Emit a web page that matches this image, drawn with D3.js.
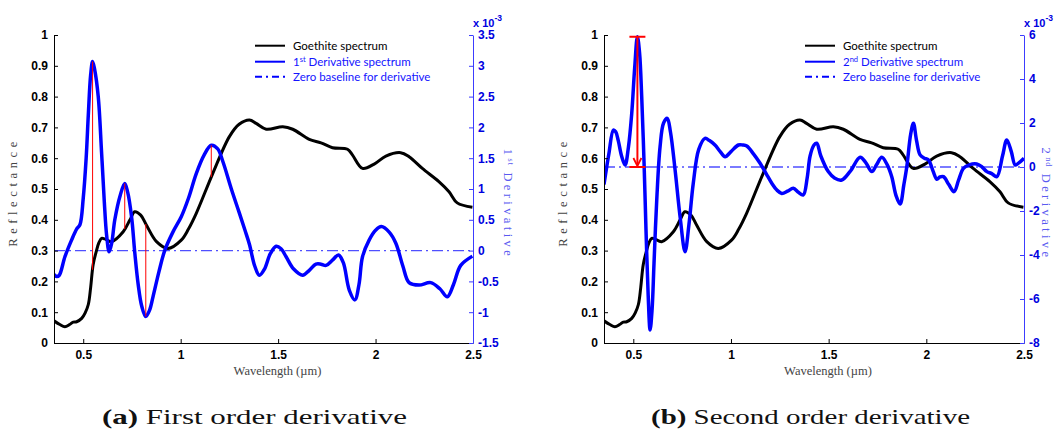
<!DOCTYPE html>
<html>
<head>
<meta charset="utf-8">
<script src="https://cdn.jsdelivr.net/npm/d3@7"></script>
<style>
  body { margin: 0; background: #fff; }
  svg { display: block; }
</style>
</head>
<body>
<svg id="chart" width="1055" height="430"></svg>
<script>
// ---- Goethite reflectance spectrum (shared by both panels) ----
const goethiteWl = [0.35, 0.38, 0.406, 0.43, 0.449, 0.466, 0.492, 0.51, 0.526, 0.538, 0.551, 0.568, 0.58, 0.594, 0.61, 0.645, 0.705, 0.74, 0.764, 0.795, 0.824, 0.876, 0.935, 1.003, 1.04, 1.08, 1.165, 1.25, 1.30, 1.353, 1.387, 1.439, 1.524, 1.575, 1.66, 1.72, 1.779, 1.856, 1.882, 1.933, 1.993, 2.053, 2.129, 2.172, 2.24, 2.325, 2.377, 2.419, 2.497];
const goethiteRefl = [0.072, 0.060, 0.053, 0.060, 0.068, 0.069, 0.080, 0.098, 0.125, 0.18, 0.255, 0.30, 0.325, 0.340, 0.338, 0.329, 0.361, 0.40, 0.426, 0.415, 0.383, 0.329, 0.307, 0.334, 0.37, 0.421, 0.551, 0.670, 0.71, 0.724, 0.713, 0.694, 0.702, 0.694, 0.661, 0.650, 0.634, 0.629, 0.610, 0.567, 0.581, 0.607, 0.618, 0.605, 0.567, 0.524, 0.491, 0.455, 0.441];

// ---- First derivative spectrum (x 10^-3) ----
const firstDerivWl = [0.35, 0.364, 0.377, 0.406, 0.44, 0.466, 0.483, 0.50, 0.515, 0.526, 0.538, 0.548, 0.558, 0.577, 0.594, 0.608, 0.62, 0.633, 0.646, 0.662, 0.69, 0.713, 0.728, 0.748, 0.765, 0.782, 0.80, 0.821, 0.84, 0.858, 0.888, 0.918, 0.96, 1.003, 1.04, 1.08, 1.12, 1.157, 1.19, 1.216, 1.26, 1.30, 1.33, 1.353, 1.38, 1.404, 1.43, 1.46, 1.49, 1.515, 1.541, 1.58, 1.626, 1.66, 1.694, 1.72, 1.746, 1.78, 1.81, 1.835, 1.865, 1.894, 1.915, 1.933, 1.967, 2.0, 2.03, 2.07, 2.104, 2.14, 2.172, 2.223, 2.283, 2.33, 2.368, 2.40, 2.437, 2.497];
const firstDeriv = [-0.39, -0.42, -0.40, -0.10, 0.17, 0.35, 0.42, 0.85, 1.5, 2.2, 2.85, 3.07, 2.95, 2.5, 1.6, 0.8, 0.25, -0.02, 0.12, 0.5, 0.9, 1.09, 0.95, 0.55, -0.05, -0.55, -0.9, -1.07, -0.97, -0.75, -0.35, 0.0, 0.3, 0.55, 0.85, 1.25, 1.55, 1.71, 1.65, 1.45, 1.0, 0.62, 0.33, 0.1, -0.25, -0.40, -0.3, -0.05, 0.07, 0.03, -0.10, -0.3, -0.40, -0.32, -0.22, -0.22, -0.24, -0.15, -0.07, -0.2, -0.64, -0.80, -0.55, -0.10, 0.17, 0.33, 0.39, 0.30, 0.12, -0.25, -0.52, -0.56, -0.52, -0.62, -0.75, -0.55, -0.24, -0.09];

// ---- Second derivative spectrum (x 10^-3) ----
const secondDerivWl = [0.35, 0.375, 0.398, 0.41, 0.423, 0.44, 0.458, 0.475, 0.492, 0.507, 0.521, 0.532, 0.543, 0.555, 0.565, 0.576, 0.586, 0.596, 0.606, 0.62, 0.637, 0.655, 0.674, 0.69, 0.714, 0.74, 0.765, 0.785, 0.807, 0.835, 0.867, 0.89, 0.918, 0.945, 0.97, 1.0, 1.038, 1.06, 1.081, 1.115, 1.149, 1.18, 1.209, 1.235, 1.26, 1.29, 1.319, 1.345, 1.37, 1.39, 1.405, 1.425, 1.439, 1.46, 1.498, 1.53, 1.567, 1.61, 1.661, 1.69, 1.721, 1.745, 1.772, 1.80, 1.823, 1.845, 1.866, 1.885, 1.9, 1.92, 1.934, 1.95, 1.968, 1.99, 2.011, 2.035, 2.054, 2.07, 2.088, 2.115, 2.142, 2.165, 2.19, 2.22, 2.258, 2.285, 2.31, 2.335, 2.361, 2.39, 2.412, 2.435, 2.455, 2.475, 2.5];
const secondDeriv = [-0.8, 0.6, 1.68, 1.6, 1.2, 0.5, 0.09, 0.9, 2.44, 4.5, 5.92, 5.2, 3.2, 0.2, -2.86, -5.8, -7.41, -6.5, -4.38, -1.5, 0.92, 2.0, 2.21, 1.6, -0.14, -2.3, -3.85, -2.6, -0.74, 0.8, 1.30, 1.2, 1.0, 0.7, 0.47, 0.7, 1.0, 1.0, 0.95, 0.6, 0.17, -0.3, -0.74, -1.05, -1.20, -1.1, -0.97, -1.15, -1.27, -0.5, 0.5, 1.0, 1.08, 0.5, -0.21, -0.5, -0.59, -0.2, 0.44, 0.2, -0.21, 0.1, 0.44, 0.1, -0.44, -1.3, -1.68, -0.8, 0.01, 1.5, 1.99, 1.2, 0.55, 0.4, 0.32, -0.2, -0.56, -0.45, -0.44, -0.8, -1.12, -0.6, -0.06, 0.1, 0.14, 0.0, -0.21, -0.3, -0.44, 0.5, 1.23, 0.7, 0.09, 0.2, 0.40];

// ---- Tick labels ----
const wavelengthTicks = [0.5, 1, 1.5, 2, 2.5];
const reflectanceTicks = [0, 0.1, 0.2, 0.3, 0.4, 0.5, 0.6, 0.7, 0.8, 0.9, 1];
const firstDerivTicks = [-1.5, -1, -0.5, 0, 0.5, 1, 1.5, 2, 2.5, 3, 3.5];
const secondDerivTicks = [-8, -6, -4, -2, 0, 2, 4, 6];

// Wavelengths where the first derivative extrema are linked to the spectrum
const firstDerivMarkers = [0.548, 0.713, 0.821, 1.157];
// Second-derivative peak height that is highlighted with an arrow
const secondDerivArrowWl = 0.521;

const BLUE = "#0000ff";
const AXIS_BLUE = "#3c3cff";
const svg = d3.select("#chart");

function interp(xs, ys, x) {
  const i = Math.max(1, d3.bisectLeft(xs, x));
  const x0 = xs[i - 1], x1 = xs[i];
  const t = (x - x0) / (x1 - x0);
  return ys[i - 1] + t * (ys[i] - ys[i - 1]);
}

const panels = [
  {
    id: "a", left: 54, right: 473, rightTitleX: 504,
    derivWl: firstDerivWl, deriv: firstDeriv,
    derivDomain: [-1.5, 3.5], derivTicks: firstDerivTicks,
    ordinal: ["1", "st"], legendX: 255,
    captionTag: "(a)", captionText: " First order derivative", captionX: 102, captionW: 305
  },
  {
    id: "b", left: 604, right: 1024, rightTitleX: 1042,
    derivWl: secondDerivWl, deriv: secondDeriv,
    derivDomain: [-8, 6], derivTicks: secondDerivTicks,
    ordinal: ["2", "nd"], legendX: 805,
    captionTag: "(b)", captionText: " Second order derivative", captionX: 651, captionW: 319
  }
];

const plotTop = 35, plotBottom = 343;

panels.forEach(p => {
  const g = svg.append("g");
  const x = d3.scaleLinear().domain([0.35, 2.5]).range([p.left, p.right]);
  const y = d3.scaleLinear().domain([0, 1]).range([plotBottom, plotTop]);
  const y2 = d3.scaleLinear().domain(p.derivDomain).range([plotBottom, plotTop]);

  const clipId = "clip-" + p.id;
  g.append("clipPath").attr("id", clipId)
    .append("rect").attr("x", p.left).attr("y", plotTop - 4)
    .attr("width", p.right - p.left).attr("height", plotBottom - plotTop + 4);

  const plot = g.append("g").attr("clip-path", `url(#${clipId})`);

  // zero baseline for the derivative
  plot.append("line")
    .attr("x1", p.left).attr("x2", p.right)
    .attr("y1", y2(0)).attr("y2", y2(0))
    .attr("stroke", "#4f4fff").attr("stroke-width", 1.4)
    .attr("stroke-dasharray", "11,4,2,4");

  const curve = d3.curveCatmullRom.alpha(0.5);

  // goethite spectrum
  const reflLine = d3.line().x(d => x(d[0])).y(d => y(d[1])).curve(curve);
  plot.append("path")
    .datum(d3.zip(goethiteWl, goethiteRefl))
    .attr("d", reflLine)
    .attr("fill", "none").attr("stroke", "#000").attr("stroke-width", 3)
    .attr("stroke-linejoin", "round");

  // derivative spectrum
  const derivLine = d3.line().x(d => x(d[0])).y(d => y2(d[1])).curve(curve);
  plot.append("path")
    .datum(d3.zip(p.derivWl, p.deriv))
    .attr("d", derivLine)
    .attr("fill", "none").attr("stroke", BLUE).attr("stroke-width", 3.5)
    .attr("stroke-linejoin", "round");

  if (p.id === "a") {
    // red connectors between derivative extrema and the spectrum
    g.selectAll(".connector").data(firstDerivMarkers).join("line")
      .attr("x1", d => x(d)).attr("x2", d => x(d))
      .attr("y1", d => y2(interp(p.derivWl, p.deriv, d)))
      .attr("y2", d => y(interp(goethiteWl, goethiteRefl, d)))
      .attr("stroke", "#ff0000").attr("stroke-width", 1);
  } else {
    // red arrow marking the height of the main second-derivative peak
    const ax = x(secondDerivArrowWl);
    const yTop = y2(interp(p.derivWl, p.deriv, secondDerivArrowWl));
    const yBot = y2(0);
    const red = "#ff0000";
    g.append("line").attr("x1", ax - 8).attr("x2", ax + 8)
      .attr("y1", yTop).attr("y2", yTop).attr("stroke", red).attr("stroke-width", 2);
    g.append("line").attr("x1", ax - 8).attr("x2", ax + 8)
      .attr("y1", yBot).attr("y2", yBot).attr("stroke", red).attr("stroke-width", 2);
    g.append("line").attr("x1", ax).attr("x2", ax)
      .attr("y1", yTop).attr("y2", yBot - 2).attr("stroke", red).attr("stroke-width", 2);
    g.append("path")
      .attr("d", `M${ax - 4},${yBot - 9} L${ax},${yBot - 1} L${ax + 4},${yBot - 9}`)
      .attr("fill", "none").attr("stroke", red).attr("stroke-width", 1.8);
  }

  // ---- axes ----
  const tickFmt = d => String(d);
  const axL = g.append("g").attr("transform", `translate(${p.left},0)`)
    .call(d3.axisLeft(y).tickValues(reflectanceTicks).tickFormat(tickFmt)
      .tickSize(-4).tickSizeOuter(0).tickPadding(6));
  const axB = g.append("g").attr("transform", `translate(0,${plotBottom})`)
    .call(d3.axisBottom(x).tickValues(wavelengthTicks).tickFormat(tickFmt)
      .tickSize(-4).tickSizeOuter(0).tickPadding(7));
  const axR = g.append("g").attr("transform", `translate(${p.right},0)`)
    .call(d3.axisRight(y2).tickValues(p.derivTicks).tickFormat(tickFmt)
      .tickSize(-4).tickSizeOuter(0).tickPadding(5));

  [axL, axB].forEach(a => {
    a.selectAll("path, line").attr("stroke", "#000");
    a.selectAll("text").attr("fill", "#000")
      .style("font-family", "'Liberation Sans', Arial, sans-serif")
      .style("font-weight", "bold").style("font-size", "12px");
  });
  axR.selectAll("path, line").attr("stroke", AXIS_BLUE);
  axR.selectAll("text").attr("fill", "#0000e0")
    .style("font-family", "'Liberation Sans', Arial, sans-serif")
    .style("font-weight", "bold").style("font-size", "12px");

  // exponent label of the right axis
  const expo = g.append("text").attr("x", p.right).attr("y", 27)
    .attr("fill", "#0000e0")
    .style("font-family", "'Liberation Sans', Arial, sans-serif")
    .style("font-weight", "bold").style("font-size", "11px");
  expo.append("tspan").text("x 10");
  expo.append("tspan").attr("dy", -6).style("font-size", "8.5px").text("-3");

  // ---- axis titles ----
  const midY = (plotTop + plotBottom) / 2;
  g.append("text")
    .attr("transform", `translate(${p.left - 37},${midY + 3}) rotate(-90)`)
    .attr("text-anchor", "middle")
    .attr("fill", "#444")
    .style("font-family", "'Liberation Serif', 'Times New Roman', serif")
    .style("font-size", "12.5px").style("letter-spacing", "4.6px")
    .text("Reflectance");

  g.append("text")
    .attr("x", (p.left + p.right) / 2 + 14).attr("y", 375)
    .attr("text-anchor", "middle").attr("fill", "#444")
    .style("font-family", "'Liberation Serif', 'Times New Roman', serif")
    .style("font-size", "12.5px")
    .text("Wavelength (\u00b5m)");

  const rt = g.append("text")
    .attr("transform", `translate(${p.rightTitleX},${midY + 15}) rotate(90)`)
    .attr("text-anchor", "middle").attr("fill", "#5a5af0")
    .style("font-family", "'Liberation Serif', 'Times New Roman', serif")
    .style("font-size", "12.5px").style("letter-spacing", "3.4px");
  rt.append("tspan").text(p.ordinal[0]);
  rt.append("tspan").attr("dy", -4).style("font-size", "8px").style("letter-spacing", "1px").text(p.ordinal[1]);
  rt.append("tspan").attr("dy", 4).text(" Derivative");

  // ---- legend ----
  const legend = g.append("g").attr("transform", `translate(${p.legendX},0)`);
  const rows = [
    { y: 45.7, color: "#000", dash: null, label: [["Goethite spectrum"]], text: "#000" },
    { y: 61.7, color: BLUE, dash: null, label: [[p.ordinal[0]], [p.ordinal[1], "sup"], [" Derivative spectrum"]], text: "#1414ff" },
    { y: 76.7, color: BLUE, dash: "7,4,2,4", label: [["Zero baseline for derivative"]], text: "#1414ff" }
  ];
  rows.forEach(r => {
    legend.append("line").attr("x1", 0).attr("x2", 30)
      .attr("y1", r.y).attr("y2", r.y)
      .attr("stroke", r.color).attr("stroke-width", 2)
      .attr("stroke-dasharray", r.dash);
    const t = legend.append("text").attr("x", 38).attr("y", r.y + 4)
      .attr("fill", r.text)
      .style("font-family", "Lato, 'Open Sans', sans-serif").style("font-size", "11.5px");
    let sup = false;
    r.label.forEach(([s, kind]) => {
      const ts = t.append("tspan").text(s);
      if (kind === "sup") { ts.attr("dy", -4).style("font-size", "7.5px"); sup = true; }
      else if (sup) { ts.attr("dy", 4); sup = false; }
    });
  });

  // ---- caption ----
  const cap = svg.append("text").attr("x", p.captionX).attr("y", 424)
    .attr("fill", "#111")
    .attr("textLength", p.captionW).attr("lengthAdjust", "spacingAndGlyphs")
    .style("font-family", "'Liberation Serif', 'Times New Roman', serif")
    .style("font-size", "21px");
  cap.append("tspan").style("font-weight", "bold").text(p.captionTag);
  cap.append("tspan").text(p.captionText);
});
</script>
</body>
</html>
